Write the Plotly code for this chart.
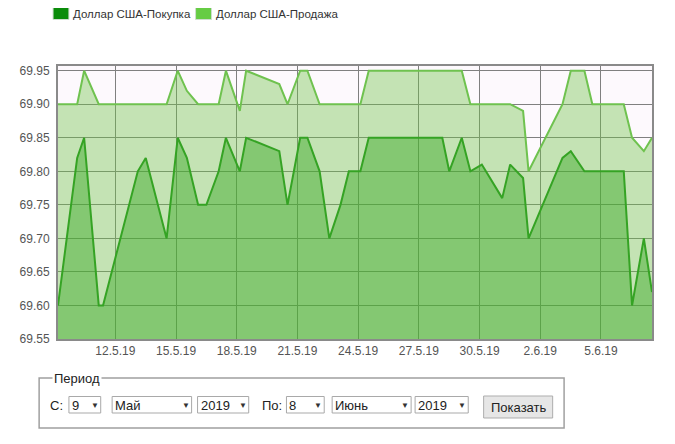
import plotly.graph_objects as go

# ---- data ----
times = [
    "2019-05-09 04:00", "2019-05-10 02:45", "2019-05-10 11:00", "2019-05-11 04:20",
    "2019-05-11 09:25", "2019-05-13 02:40", "2019-05-13 12:05", "2019-05-14 12:50",
    "2019-05-15 02:00", "2019-05-15 12:50", "2019-05-16 02:10", "2019-05-16 12:00",
    "2019-05-17 02:35", "2019-05-17 11:10", "2019-05-18 03:40", "2019-05-18 11:10",
    "2019-05-20 02:30", "2019-05-20 12:15", "2019-05-21 03:15", "2019-05-21 11:50",
    "2019-05-22 02:20", "2019-05-22 13:50", "2019-05-23 03:05", "2019-05-23 13:00",
    "2019-05-24 02:40", "2019-05-24 12:35", "2019-05-28 03:50", "2019-05-28 12:05",
    "2019-05-29 02:55", "2019-05-29 13:10", "2019-05-30 02:45", "2019-05-31 02:55",
    "2019-05-31 12:20", "2019-06-01 03:40", "2019-06-01 10:10", "2019-06-03 02:25",
    "2019-06-03 12:15", "2019-06-04 04:25", "2019-06-04 13:50", "2019-06-06 03:05",
    "2019-06-06 12:55", "2019-06-07 02:55", "2019-06-07 12:35",
]
sell = [
    69.90, 69.90, 69.95, 69.90, 69.90, 69.90, 69.90, 69.90,
    69.95, 69.92, 69.90, 69.90, 69.90, 69.95, 69.89, 69.95,
    69.93, 69.90, 69.95, 69.95, 69.90, 69.90, 69.90, 69.90,
    69.90, 69.95, 69.95, 69.95, 69.95, 69.90, 69.90, 69.90,
    69.90, 69.89, 69.80, 69.90, 69.95, 69.95, 69.90, 69.90,
    69.85, 69.83, 69.85,
]
buy = [
    69.60, 69.82, 69.85, 69.60, 69.60, 69.80, 69.82, 69.70,
    69.85, 69.82, 69.75, 69.75, 69.80, 69.85, 69.80, 69.85,
    69.83, 69.75, 69.85, 69.85, 69.80, 69.70, 69.75, 69.80,
    69.80, 69.85, 69.85, 69.80, 69.85, 69.80, 69.81, 69.76,
    69.81, 69.79, 69.70, 69.82, 69.83, 69.80, 69.80, 69.80,
    69.60, 69.70, 69.62,
]
series_names = ["Доллар США-Покупка", "Доллар США-Продажа"]
y_range = [69.55, 69.957]
x_tick0 = "2019-05-12"

FONT = "Liberation Sans, Arial, sans-serif"
OFF = 8  # default page body margin
W, H = 675 - OFF, 444 - OFF
ML, MR, MT, MB = 54 - OFF, 23, 66 - OFF, 105
PW, PH = W - ML - MR, H - MT - MB
TPAD = 3  # annotation inner padding


def xp(px):
    # px given in page (screenshot) coordinates
    return (px - OFF - ML) / PW


def yp(py):
    return (H - MB - (py - OFF)) / PH


fig = go.Figure()
fig.add_trace(go.Scatter(
    x=times, y=sell, name=series_names[1], mode="lines",
    line=dict(color="#6fc24f", width=2),
    fill="tozeroy", fillcolor="rgba(110,195,70,0.40)", showlegend=False,
))
fig.add_trace(go.Scatter(
    x=times, y=buy, name=series_names[0], mode="lines",
    line=dict(color="#35a324", width=2),
    fill="tozeroy", fillcolor="rgba(60,170,40,0.47)", showlegend=False,
))

shapes = []
annotations = []

# ---- legend (drawn manually) ----
leg = [(49, "#0a8c0a", 70, series_names[0]), (192.5, "#66cc44", 214, series_names[1])]
for sx, col, tx, txt in leg:
    shapes.append(dict(type="rect", xref="paper", yref="paper",
                       x0=xp(sx), x1=xp(sx + 16), y0=yp(19.5), y1=yp(7.5),
                       fillcolor=col, line=dict(color="#cfdccf", width=1)))
    annotations.append(dict(xref="paper", yref="paper", x=xp(tx - TPAD), y=yp(13.5),
                            xanchor="left", yanchor="middle", showarrow=False,
                            text=txt, font=dict(family=FONT, size=11.5, color="#333333")))

# ---- form (period selector) ----
shapes.append(dict(type="rect", xref="paper", yref="paper",
                   x0=xp(35), x1=xp(563.5), y0=yp(428), y1=yp(378),
                   fillcolor="rgba(0,0,0,0)", line=dict(color="#a0a0a0", width=1.5)))
annotations.append(dict(xref="paper", yref="paper", x=xp(48), y=yp(378),
                        xanchor="left", yanchor="middle", showarrow=False,
                        text="Период", bgcolor="white", borderpad=1,
                        font=dict(family=FONT, size=13, color="#222222")))

labels = [(47, "С:"), (260, "По:")]
for lx, t in labels:
    annotations.append(dict(xref="paper", yref="paper", x=xp(lx - TPAD), y=yp(405),
                            xanchor="left", yanchor="middle", showarrow=False,
                            text=t, font=dict(family=FONT, size=13, color="#222222")))

selects = [(65, 97, "9"), (108.5, 188.5, "Май"), (194.5, 246, "2019"),
           (284, 322, "8"), (330, 409.5, "Июнь"), (413.5, 467, "2019")]
for x0, x1, t in selects:
    shapes.append(dict(type="rect", xref="paper", yref="paper",
                       x0=xp(x0), x1=xp(x1), y0=yp(413), y1=yp(396.5),
                       fillcolor="white", line=dict(color="#a9a9a9", width=1)))
    annotations.append(dict(xref="paper", yref="paper", x=xp(x0 + 4 - TPAD), y=yp(405),
                            xanchor="left", yanchor="middle", showarrow=False,
                            text=t, font=dict(family=FONT, size=13, color="#222222")))
    annotations.append(dict(xref="paper", yref="paper", x=xp(x1 - 6), y=yp(405),
                            xanchor="center", yanchor="middle", showarrow=False,
                            text="▼", font=dict(family=FONT, size=8, color="#333333")))

shapes.append(dict(type="rect", xref="paper", yref="paper",
                   x0=xp(482.5), x1=xp(552), y0=yp(418), y1=yp(396),
                   fillcolor="#e6e6e6", line=dict(color="#adadad", width=1)))
annotations.append(dict(xref="paper", yref="paper", x=xp(517.3), y=yp(407),
                        xanchor="center", yanchor="middle", showarrow=False,
                        text="Показать", font=dict(family=FONT, size=13, color="#222222")))

fig.update_layout(
    width=W, height=H,
    margin=dict(l=ML, r=MR, t=MT, b=MB, pad=0),
    paper_bgcolor="white",
    plot_bgcolor="#fdf9fd",
    showlegend=False,
    shapes=shapes,
    annotations=annotations,
    font=dict(family=FONT, size=12, color="#545454"),
)
fig.update_xaxes(
    type="date", range=[times[0], times[-1]],
    tick0=x_tick0, dtick=3 * 86400000, tickformat="%-d.%-m.%y",
    showgrid=True, gridcolor="#808080", gridwidth=1,
    showline=True, mirror=True, linecolor="#8a8a8a", linewidth=2,
    ticks="", tickfont=dict(family=FONT, size=12, color="#545454"),
    zeroline=False,
)
fig.update_yaxes(
    range=y_range, tick0=69.55, dtick=0.05, tickformat=".2f",
    showgrid=True, gridcolor="#808080", gridwidth=1,
    showline=True, mirror=True, linecolor="#8a8a8a", linewidth=2,
    ticks="", ticklabelstandoff=4,
    tickfont=dict(family=FONT, size=12, color="#545454"),
    zeroline=False,
)

fig.write_html("out.html")
